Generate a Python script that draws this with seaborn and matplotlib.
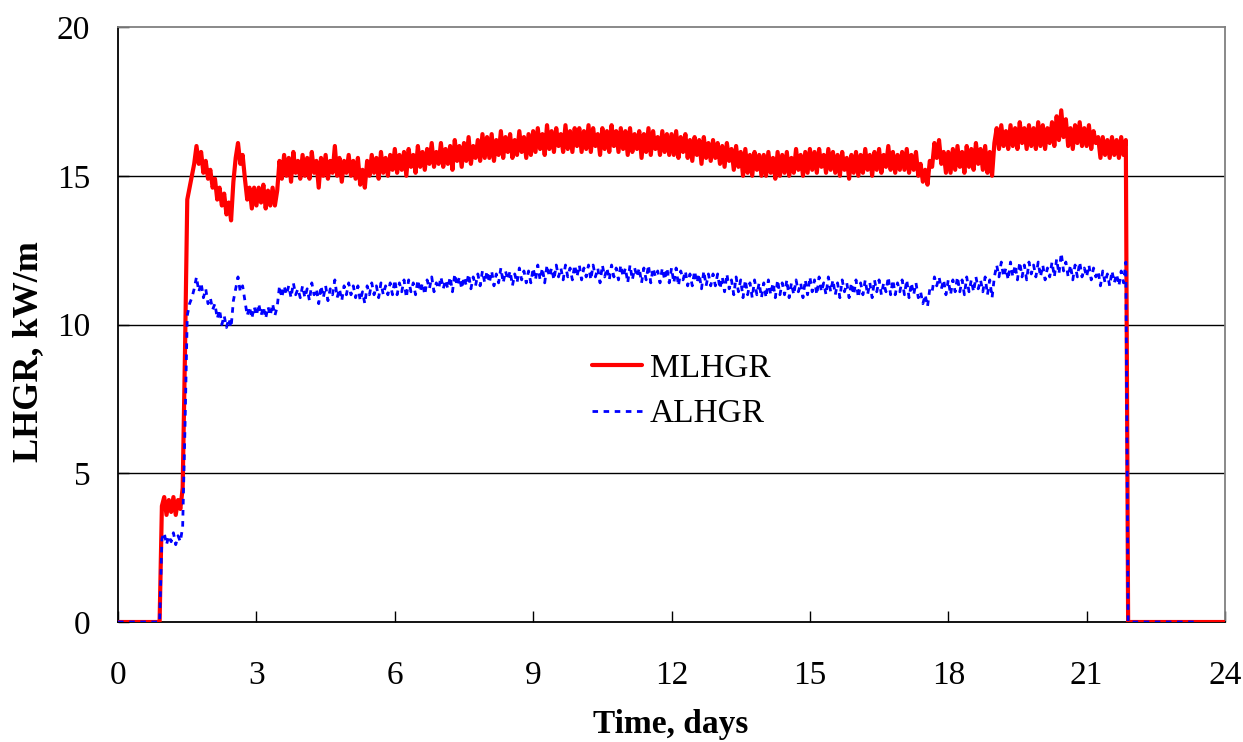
import numpy as np
import pandas as pd
import matplotlib
matplotlib.use("Agg")
import matplotlib.pyplot as plt
import seaborn as sns

# time grid, one sample every 0.05 day (20 per day)
time_days = np.round(np.arange(0, 24.0001, 0.05), 2)

# MLHGR (kW/m), one row per day
mlhgr = [
    0, 0, 0, 0, 0, 0, 0, 0, 0, 0, 0, 0, 0, 0, 0, 0, 0, 0, 0, 3.9,
    4.2, 3.6, 4.1, 3.7, 4.2, 3.6, 4.1, 3.8, 4.5, 9.0, 14.2, 14.6, 15.0, 15.4, 16.0, 15.4, 15.8, 15.1, 15.5, 14.9,
    15.2, 14.6, 14.9, 14.2, 14.6, 14.0, 14.4, 13.7, 14.1, 13.5, 14.8, 15.6, 16.1, 15.4, 15.7, 14.9, 14.2, 14.6, 13.9, 14.6,
    14.0, 14.6, 14.1, 14.7, 13.9, 14.5, 14.0, 14.6, 14.0, 14.5, 15.5, 14.9, 15.7, 15.0, 15.6, 14.8, 15.8, 15.1, 15.5, 14.9,
    15.7, 15.0, 15.6, 14.9, 15.8, 15.1, 15.5, 14.6, 15.6, 15.0, 15.7, 14.9, 15.5, 15.1, 16.0, 15.0, 15.6, 14.8, 15.5, 15.1,
    15.7, 15.0, 15.5, 14.9, 15.6, 14.7, 15.2, 14.6, 15.5, 15.0, 15.7, 15.1, 15.6, 14.9, 15.8, 15.1, 15.6, 15.0, 15.7, 15.2,
    15.9, 15.1, 15.7, 15.2, 15.8, 15.0, 15.9, 15.3, 15.7, 15.1, 16.0, 15.3, 15.8, 15.2, 15.9, 15.4, 16.1, 15.3, 15.8, 15.4,
    16.1, 15.3, 15.9, 15.4, 16.0, 15.2, 16.2, 15.5, 16.0, 15.3, 16.1, 15.5, 16.3, 15.4, 16.0, 15.6, 16.2, 15.5, 16.4, 15.6,
    16.3, 15.6, 16.4, 15.5, 16.2, 15.7, 16.5, 15.6, 16.3, 15.8, 16.4, 15.6, 16.2, 15.7, 16.5, 15.8, 16.3, 15.6, 16.4, 15.7,
    16.5, 15.8, 16.6, 15.9, 16.4, 15.7, 16.7, 15.9, 16.5, 15.8, 16.6, 16.0, 16.4, 15.8, 16.7, 15.9, 16.5, 15.8, 16.6, 16.0,
    16.6, 15.8, 16.5, 15.9, 16.7, 15.8, 16.6, 16.0, 16.4, 15.7, 16.6, 15.9, 16.5, 15.8, 16.7, 16.0, 16.5, 15.8, 16.6, 15.9,
    16.5, 15.7, 16.6, 15.8, 16.4, 15.9, 16.5, 15.6, 16.4, 15.8, 16.6, 15.7, 16.5, 15.9, 16.3, 15.7, 16.5, 15.8, 16.4, 15.7,
    16.4, 15.7, 16.5, 15.6, 16.3, 15.8, 16.4, 15.6, 16.2, 15.5, 16.3, 15.7, 16.2, 15.4, 16.3, 15.6, 16.1, 15.5, 16.2, 15.6,
    16.1, 15.4, 16.0, 15.3, 16.1, 15.5, 15.9, 15.2, 16.0, 15.3, 15.8, 15.0, 15.9, 15.1, 15.7, 15.0, 15.8, 15.2, 15.7, 15.0,
    15.7, 15.0, 15.8, 15.1, 15.6, 14.9, 15.8, 15.0, 15.7, 15.1, 15.8, 15.0, 15.6, 15.1, 15.9, 15.2, 15.7, 15.0, 15.8, 15.1,
    15.9, 15.2, 15.8, 15.1, 15.9, 15.3, 15.7, 15.1, 15.9, 15.2, 15.8, 15.1, 15.7, 15.0, 15.8, 15.2, 15.6, 14.9, 15.7, 15.1,
    15.8, 15.0, 15.7, 15.1, 15.9, 15.2, 15.7, 15.0, 15.8, 15.2, 15.9, 15.1, 15.7, 15.3, 16.0, 15.2, 15.8, 15.1, 15.7, 15.2,
    15.8, 15.2, 15.9, 15.1, 15.7, 15.2, 15.8, 15.0, 15.4, 14.8, 15.2, 14.7, 15.5, 15.3, 16.1, 15.6, 16.2, 15.4, 15.8, 15.1,
    15.8, 15.1, 15.9, 15.2, 16.0, 15.3, 15.8, 15.1, 16.0, 15.3, 15.9, 15.2, 16.1, 15.4, 15.9, 15.2, 16.0, 15.1, 15.8, 15.0,
    16.1, 16.6, 15.9, 16.7, 16.0, 16.5, 15.9, 16.7, 16.0, 16.6, 15.9, 16.8, 16.1, 16.6, 15.9, 16.7, 16.0, 16.6, 15.9, 16.8,
    16.0, 16.7, 15.9, 16.6, 16.1, 16.8, 16.0, 17.0, 16.2, 17.2, 16.3, 16.9, 16.0, 16.6, 15.9, 16.7, 16.1, 16.8, 16.0, 16.6,
    16.0, 16.7, 15.9, 16.5, 16.1, 16.3, 15.6, 16.3, 15.7, 16.2, 15.6, 16.3, 15.7, 16.2, 15.6, 16.3, 15.7, 16.2, 0, 0,
    0, 0, 0, 0, 0, 0, 0, 0, 0, 0, 0, 0, 0, 0, 0, 0, 0, 0, 0, 0,
    0, 0, 0, 0, 0, 0, 0, 0, 0, 0, 0, 0, 0, 0, 0, 0, 0, 0, 0, 0,
    0,
]

# ALHGR (kW/m), record ends at ~23.4 days
alhgr = [
    0, 0, 0, 0, 0, 0, 0, 0, 0, 0, 0, 0, 0, 0, 0, 0, 0, 0, 0, 2.8,
    3.0, 2.6, 2.9, 2.7, 3.0, 2.6, 2.9, 2.7, 3.2, 6.5, 10.3, 10.7, 10.9, 11.2, 11.6, 11.1, 11.4, 10.9, 11.2, 10.7,
    10.9, 10.5, 10.7, 10.2, 10.5, 10.0, 10.3, 9.9, 10.2, 9.9, 10.8, 11.2, 11.6, 11.1, 11.3, 10.8, 10.3, 10.6, 10.2, 10.6,
    10.3, 10.7, 10.3, 10.6, 10.2, 10.6, 10.3, 10.7, 10.3, 10.6, 11.3, 10.9, 11.3, 11.0, 11.3, 10.9, 11.4, 11.0, 11.2, 10.9,
    11.3, 10.9, 11.2, 10.8, 11.4, 11.0, 11.2, 10.7, 11.3, 10.9, 11.3, 10.8, 11.2, 11.0, 11.5, 10.9, 11.2, 10.8, 11.3, 11.0,
    11.4, 11.0, 11.3, 10.9, 11.3, 10.8, 11.1, 10.7, 11.3, 11.0, 11.4, 11.0, 11.3, 10.9, 11.4, 11.0, 11.3, 11.0, 11.4, 11.0,
    11.5, 11.0, 11.4, 11.1, 11.5, 10.9, 11.5, 11.1, 11.4, 11.0, 11.5, 11.1, 11.4, 11.0, 11.5, 11.2, 11.6, 11.1, 11.4, 11.2,
    11.6, 11.2, 11.5, 11.2, 11.6, 11.1, 11.7, 11.3, 11.6, 11.2, 11.6, 11.3, 11.7, 11.2, 11.6, 11.3, 11.7, 11.3, 11.8, 11.4,
    11.8, 11.4, 11.8, 11.3, 11.7, 11.4, 11.9, 11.4, 11.8, 11.5, 11.8, 11.3, 11.7, 11.4, 11.9, 11.5, 11.8, 11.4, 11.8, 11.4,
    11.9, 11.5, 12.0, 11.5, 11.9, 11.4, 12.0, 11.6, 11.9, 11.5, 12.0, 11.6, 11.9, 11.5, 12.0, 11.6, 11.9, 11.5, 12.0, 11.6,
    12.0, 11.5, 11.9, 11.6, 12.0, 11.5, 12.0, 11.6, 11.9, 11.4, 12.0, 11.6, 11.9, 11.5, 12.0, 11.6, 11.9, 11.5, 12.0, 11.6,
    11.9, 11.4, 12.0, 11.5, 11.9, 11.6, 11.9, 11.4, 11.9, 11.5, 12.0, 11.4, 11.9, 11.6, 11.8, 11.4, 11.9, 11.5, 11.9, 11.4,
    11.9, 11.4, 11.9, 11.3, 11.8, 11.5, 11.8, 11.3, 11.7, 11.3, 11.8, 11.4, 11.7, 11.2, 11.8, 11.3, 11.7, 11.3, 11.7, 11.3,
    11.7, 11.2, 11.6, 11.1, 11.7, 11.2, 11.5, 11.0, 11.6, 11.1, 11.5, 10.9, 11.5, 11.0, 11.4, 10.9, 11.5, 11.0, 11.4, 10.9,
    11.4, 10.9, 11.5, 11.0, 11.4, 10.9, 11.5, 11.0, 11.4, 11.0, 11.5, 10.9, 11.4, 11.0, 11.5, 11.1, 11.4, 10.9, 11.5, 11.0,
    11.6, 11.1, 11.5, 11.0, 11.6, 11.1, 11.4, 11.0, 11.6, 11.1, 11.5, 11.0, 11.4, 10.9, 11.5, 11.1, 11.4, 10.9, 11.4, 11.0,
    11.5, 10.9, 11.4, 11.0, 11.5, 11.0, 11.4, 10.9, 11.5, 11.1, 11.5, 11.0, 11.4, 11.1, 11.6, 11.0, 11.5, 11.0, 11.4, 11.1,
    11.5, 11.0, 11.5, 10.9, 11.4, 11.0, 11.4, 10.9, 11.1, 10.7, 11.0, 10.6, 11.2, 11.1, 11.6, 11.3, 11.6, 11.2, 11.5, 11.0,
    11.5, 11.0, 11.5, 11.1, 11.6, 11.1, 11.5, 11.0, 11.6, 11.1, 11.5, 11.1, 11.6, 11.2, 11.5, 11.1, 11.6, 11.0, 11.5, 10.9,
    11.6, 12.0, 11.6, 12.1, 11.6, 11.9, 11.5, 12.1, 11.6, 12.0, 11.5, 12.1, 11.6, 12.0, 11.5, 12.1, 11.7, 12.0, 11.6, 12.1,
    11.6, 12.0, 11.5, 11.9, 11.6, 12.1, 11.6, 12.2, 11.7, 12.4, 11.8, 12.1, 11.6, 12.0, 11.5, 12.0, 11.6, 12.1, 11.6, 11.9,
    11.6, 12.0, 11.5, 11.9, 11.6, 11.8, 11.3, 11.8, 11.4, 11.7, 11.3, 11.8, 11.4, 11.7, 11.3, 11.8, 11.4, 12.1, 0, 0,
    0, 0, 0, 0, 0, 0, 0, 0, 0, 0, 0, 0, 0, 0, 0, 0, 0, 0, 0, 0,
    0, 0, 0, 0, 0, 0, 0, 0, 0,
]

x_ticks = [0, 3, 6, 9, 12, 15, 18, 21, 24]
y_ticks = [0, 5, 10, 15, 20]

df_m = pd.DataFrame({"t": time_days[:len(mlhgr)], "v": mlhgr})
df_a = pd.DataFrame({"t": time_days[:len(alhgr)], "v": alhgr})

sns.set_theme(style="white")
plt.rcParams["font.family"] = ["Liberation Serif", "DejaVu Serif"]
plt.rcParams["text.color"] = "black"
plt.rcParams["axes.labelcolor"] = "black"
plt.rcParams["xtick.color"] = "black"
plt.rcParams["ytick.color"] = "black"

fig = plt.figure(figsize=(12.43, 7.42), dpi=100)
ax = fig.add_axes([0.095, 0.1617, 0.8905, 0.8019])

sns.lineplot(data=df_m, x="t", y="v", ax=ax, color="#ff0000", linewidth=3.0,
             estimator=None, sort=False, label="MLHGR", zorder=3)
sns.lineplot(data=df_a, x="t", y="v", ax=ax, color="#0000ff", linewidth=2.0,
             estimator=None, sort=False, label="ALHGR", zorder=4,
             linestyle=(0, (2, 2)))

ax.set_xlim(0, 24)
ax.set_ylim(0, 20)
ax.set_xticks(x_ticks)
ax.set_yticks(y_ticks)

for yv in [5, 10, 15]:
    ax.axhline(yv, color="black", linewidth=1.0, zorder=1)

for side in ["left", "bottom"]:
    ax.spines[side].set_color("black")
    ax.spines[side].set_linewidth(1.3)
for side in ["top", "right"]:
    ax.spines[side].set_color("#808080")
    ax.spines[side].set_linewidth(1.3)

ax.tick_params(axis="x", direction="in", length=8, width=1, color="black",
               labelsize=24, pad=28)
ax.tick_params(axis="y", direction="in", length=8, width=1, color="black",
               labelsize=24, pad=20)
ax.xaxis.set_ticks_position("bottom")
ax.yaxis.set_ticks_position("left")

ax.set_xlabel("Time, days", fontsize=24, fontweight="bold")
ax.set_ylabel("LHGR, kW/m", fontsize=26, fontweight="bold")
ax.xaxis.label.set_va("center")
ax.yaxis.label.set_va("center")
ax.xaxis.set_label_coords(0.499, -0.173)
ax.yaxis.set_label_coords(-0.081, 0.455)

leg = ax.legend(loc="upper left", bbox_to_anchor=(0.476, 0.524),
                bbox_transform=fig.transFigure, frameon=False, fontsize=24,
                handlelength=1.5, handletextpad=0.25, labelspacing=0.45,
                borderpad=0, borderaxespad=0)

fig.savefig("out.png", dpi=100)
